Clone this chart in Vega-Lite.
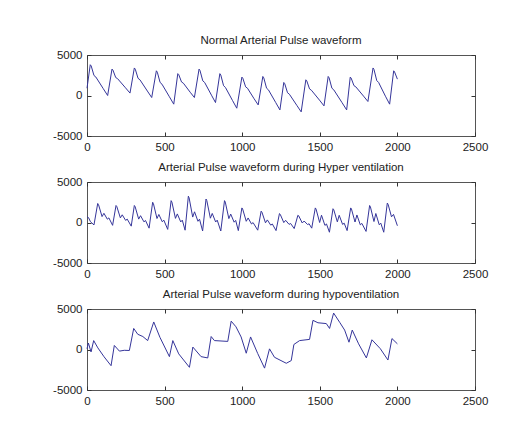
{
  "$schema": "https://vega.github.io/schema/vega-lite/v6.json",
  "background": "white",
  "padding": {"left": 52, "top": 34, "right": 5, "bottom": 5},
  "spacing": 8,
  "datasets": {
    "p1": [
      {"x":0,"y":900},
      {"x":21,"y":3800},{"x":27,"y":3650},{"x":45,"y":2470},{"x":57,"y":2280},{"x":105,"y":840},{"x":133,"y":0},
      {"x":161,"y":3260},{"x":167,"y":3140},{"x":185,"y":2220},{"x":197,"y":2080},{"x":248,"y":950},{"x":277,"y":300},
      {"x":305,"y":3400},{"x":311,"y":3250},{"x":329,"y":2120},{"x":341,"y":1940},{"x":389,"y":550},{"x":417,"y":-250},
      {"x":447,"y":3050},{"x":453,"y":2880},{"x":471,"y":1610},{"x":483,"y":1400},{"x":531,"y":-160},{"x":559,"y":-1070},
      {"x":585,"y":2700},{"x":591,"y":2580},{"x":609,"y":1670},{"x":621,"y":1520},{"x":665,"y":400},{"x":692,"y":-250},
      {"x":722,"y":3260},{"x":728,"y":3090},{"x":746,"y":1810},{"x":758,"y":1610},{"x":802,"y":40},{"x":828,"y":-870},
      {"x":856,"y":2700},{"x":862,"y":2530},{"x":880,"y":1210},{"x":892,"y":990},{"x":938,"y":-630},{"x":965,"y":-1570},
      {"x":998,"y":2270},{"x":1004,"y":2130},{"x":1022,"y":1070},{"x":1034,"y":900},{"x":1077,"y":-410},{"x":1103,"y":-1160},
      {"x":1133,"y":2350},{"x":1139,"y":2180},{"x":1157,"y":900},{"x":1169,"y":700},{"x":1216,"y":-870},{"x":1243,"y":-1780},
      {"x":1268,"y":1610},{"x":1274,"y":1460},{"x":1292,"y":340},{"x":1304,"y":160},{"x":1352,"y":-1220},{"x":1380,"y":-2020},
      {"x":1410,"y":1940},{"x":1416,"y":1810},{"x":1434,"y":810},{"x":1446,"y":650},{"x":1498,"y":-570},{"x":1527,"y":-1280},
      {"x":1554,"y":2350},{"x":1560,"y":2180},{"x":1578,"y":900},{"x":1590,"y":700},{"x":1643,"y":-870},{"x":1673,"y":-1780},
      {"x":1696,"y":2270},{"x":1702,"y":2150},{"x":1720,"y":1220},{"x":1732,"y":1070},{"x":1782,"y":-80},{"x":1810,"y":-740},
      {"x":1843,"y":3400},{"x":1849,"y":3220},{"x":1867,"y":1840},{"x":1879,"y":1610},{"x":1923,"y":-90},{"x":1950,"y":-1070},
      {"x":1976,"y":3050},{"x":1982,"y":2900},{"x":2000,"y":2020}
    ],
    "p2": [
      {"x":0,"y":700},{"x":10,"y":600},{"x":22,"y":100},{"x":45,"y":-300},
      {"x":69,"y":2350},{"x":74,"y":2215},{"x":97,"y":730},{"x":109,"y":1135},{"x":131,"y":410},{"x":141,"y":570},{"x":165,"y":-350},
      {"x":187,"y":2100},{"x":192,"y":1970},{"x":215,"y":570},{"x":227,"y":950},{"x":249,"y":260},{"x":259,"y":420},{"x":285,"y":-450},
      {"x":305,"y":2100},{"x":310,"y":1960},{"x":333,"y":420},{"x":345,"y":840},{"x":367,"y":80},{"x":377,"y":250},{"x":400,"y":-700},
      {"x":423,"y":2500},{"x":428,"y":2330},{"x":451,"y":490},{"x":463,"y":990},{"x":485,"y":90},{"x":495,"y":290},{"x":520,"y":-850},
      {"x":542,"y":2700},{"x":547,"y":2520},{"x":570,"y":510},{"x":582,"y":1060},{"x":604,"y":70},{"x":614,"y":290},{"x":632,"y":-950},
      {"x":653,"y":3250},{"x":658,"y":3040},{"x":681,"y":670},{"x":693,"y":1320},{"x":715,"y":150},{"x":725,"y":410},{"x":745,"y":-1050},
      {"x":767,"y":2900},{"x":772,"y":2700},{"x":795,"y":530},{"x":807,"y":1120},{"x":829,"y":60},{"x":839,"y":290},{"x":862,"y":-1050},
      {"x":886,"y":2700},{"x":891,"y":2520},{"x":914,"y":480},{"x":926,"y":1040},{"x":948,"y":40},{"x":958,"y":260},{"x":975,"y":-1000},
      {"x":998,"y":1800},{"x":1003,"y":1660},{"x":1026,"y":150},{"x":1038,"y":560},{"x":1060,"y":-180},{"x":1070,"y":-10},{"x":1100,"y":-950},
      {"x":1122,"y":1400},{"x":1127,"y":1280},{"x":1150,"y":-40},{"x":1162,"y":320},{"x":1184,"y":-330},{"x":1194,"y":-180},{"x":1218,"y":-1000},
      {"x":1240,"y":1100},{"x":1245,"y":1010},{"x":1268,"y":-10},{"x":1280,"y":270},{"x":1302,"y":-230},{"x":1312,"y":-120},{"x":1335,"y":-750},
      {"x":1359,"y":900},{"x":1364,"y":820},{"x":1387,"y":-60},{"x":1399,"y":180},{"x":1421,"y":-250},{"x":1431,"y":-160},{"x":1448,"y":-700},
      {"x":1471,"y":1800},{"x":1476,"y":1650},{"x":1499,"y":0},{"x":1511,"y":900},{"x":1533,"y":-360},{"x":1543,"y":-180},{"x":1562,"y":-1200},
      {"x":1585,"y":1700},{"x":1590,"y":1570},{"x":1613,"y":80},{"x":1625,"y":890},{"x":1647,"y":-240},{"x":1657,"y":-80},{"x":1676,"y":-1000},
      {"x":1699,"y":1800},{"x":1704,"y":1660},{"x":1727,"y":60},{"x":1739,"y":930},{"x":1761,"y":-290},{"x":1771,"y":-110},{"x":1798,"y":-1100},
      {"x":1821,"y":2100},{"x":1826,"y":1940},{"x":1849,"y":120},{"x":1861,"y":1110},{"x":1883,"y":-280},{"x":1893,"y":-80},{"x":1912,"y":-1200},
      {"x":1935,"y":2400},{"x":1940,"y":2250},{"x":1962,"y":700},{"x":1975,"y":1000},{"x":2000,"y":-400}
    ],
    "p3": [
      {"x":0,"y":100},{"x":9,"y":800},{"x":26,"y":-300},{"x":43,"y":1100},{"x":70,"y":200},{"x":110,"y":-900},{"x":155,"y":-2000},
      {"x":176,"y":500},{"x":209,"y":-200},{"x":240,"y":-100},{"x":273,"y":-120},
      {"x":301,"y":2600},{"x":327,"y":1880},{"x":360,"y":1600},{"x":391,"y":1100},{"x":430,"y":3400},{"x":470,"y":1500},{"x":531,"y":-880},
      {"x":553,"y":1100},{"x":591,"y":-540},{"x":660,"y":-2200},{"x":682,"y":300},{"x":735,"y":-880},{"x":778,"y":-1040},
      {"x":800,"y":1600},{"x":821,"y":1100},{"x":907,"y":1000},{"x":929,"y":3500},{"x":960,"y":2800},{"x":993,"y":1550},{"x":1026,"y":-460},
      {"x":1054,"y":1550},{"x":1100,"y":-500},{"x":1144,"y":-2300},{"x":1176,"y":80},{"x":1208,"y":-960},{"x":1284,"y":-1700},{"x":1316,"y":-1370},
      {"x":1333,"y":620},{"x":1370,"y":1100},{"x":1434,"y":1250},{"x":1456,"y":3600},{"x":1488,"y":3300},{"x":1542,"y":3200},{"x":1563,"y":2600},
      {"x":1589,"y":4500},{"x":1630,"y":3300},{"x":1660,"y":2400},{"x":1688,"y":900},{"x":1709,"y":2400},{"x":1750,"y":700},{"x":1800,"y":-1040},
      {"x":1836,"y":1200},{"x":1890,"y":100},{"x":1939,"y":-1300},{"x":1965,"y":1350},{"x":2000,"y":700}
    ]
  },
  "vconcat": [
    {
      "width": 388, "height": 81,
      "title": "Normal Arterial Pulse waveform",
      "data": {"name": "p1"},
      "layer": [
        {"mark": {"type": "line", "color": "#35359a", "strokeWidth": 1},
         "encoding": {
           "x": {"field": "x", "type": "quantitative", "scale": {"domain": [0, 2500], "nice": false}, "axis": {"orient": "bottom", "values": [0, 500, 1000, 1500, 2000, 2500]}},
           "y": {"field": "y", "type": "quantitative", "scale": {"domain": [-5000, 5000], "nice": false}, "axis": {"orient": "left", "values": [-5000, 0, 5000]}}
         }},
        {"mark": {"type": "line", "opacity": 0},
         "encoding": {
           "x": {"field": "x", "type": "quantitative", "axis": {"orient": "top", "labels": false, "values": [0, 500, 1000, 1500, 2000, 2500]}},
           "y": {"field": "y", "type": "quantitative", "axis": {"orient": "right", "labels": false, "values": [-5000, 0, 5000]}}
         }}
      ],
      "resolve": {"axis": {"x": "independent", "y": "independent"}}
    },
    {
      "width": 388, "height": 81,
      "title": "Arterial Pulse waveform during Hyper ventilation",
      "data": {"name": "p2"},
      "layer": [
        {"mark": {"type": "line", "color": "#35359a", "strokeWidth": 1},
         "encoding": {
           "x": {"field": "x", "type": "quantitative", "scale": {"domain": [0, 2500], "nice": false}, "axis": {"orient": "bottom", "values": [0, 500, 1000, 1500, 2000, 2500]}},
           "y": {"field": "y", "type": "quantitative", "scale": {"domain": [-5000, 5000], "nice": false}, "axis": {"orient": "left", "values": [-5000, 0, 5000]}}
         }},
        {"mark": {"type": "line", "opacity": 0},
         "encoding": {
           "x": {"field": "x", "type": "quantitative", "axis": {"orient": "top", "labels": false, "values": [0, 500, 1000, 1500, 2000, 2500]}},
           "y": {"field": "y", "type": "quantitative", "axis": {"orient": "right", "labels": false, "values": [-5000, 0, 5000]}}
         }}
      ],
      "resolve": {"axis": {"x": "independent", "y": "independent"}}
    },
    {
      "width": 388, "height": 81,
      "title": "Arterial Pulse waveform during hypoventilation",
      "data": {"name": "p3"},
      "layer": [
        {"mark": {"type": "line", "color": "#35359a", "strokeWidth": 1},
         "encoding": {
           "x": {"field": "x", "type": "quantitative", "scale": {"domain": [0, 2500], "nice": false}, "axis": {"orient": "bottom", "values": [0, 500, 1000, 1500, 2000, 2500]}},
           "y": {"field": "y", "type": "quantitative", "scale": {"domain": [-5000, 5000], "nice": false}, "axis": {"orient": "left", "values": [-5000, 0, 5000]}}
         }},
        {"mark": {"type": "line", "opacity": 0},
         "encoding": {
           "x": {"field": "x", "type": "quantitative", "axis": {"orient": "top", "labels": false, "values": [0, 500, 1000, 1500, 2000, 2500]}},
           "y": {"field": "y", "type": "quantitative", "axis": {"orient": "right", "labels": false, "values": [-5000, 0, 5000]}}
         }}
      ],
      "resolve": {"axis": {"x": "independent", "y": "independent"}}
    }
  ],
  "config": {
    "font": "Liberation Sans",
    "view": {"stroke": "#555555", "strokeWidth": 1},
    "axis": {
      "grid": false, "domain": false, "title": null,
      "tickColor": "#333333", "tickSize": -4, "labelPadding": 9,
      "labelFont": "Liberation Sans", "labelFontSize": 11.5, "labelColor": "#222222",
      "labelFlush": false, "labelOverlap": false,
      "labelExpr": "'' + datum.value"
    },
    "title": {"fontSize": 11.5, "fontWeight": "normal", "color": "#222222", "offset": 3, "font": "Liberation Sans"}
  }
}
